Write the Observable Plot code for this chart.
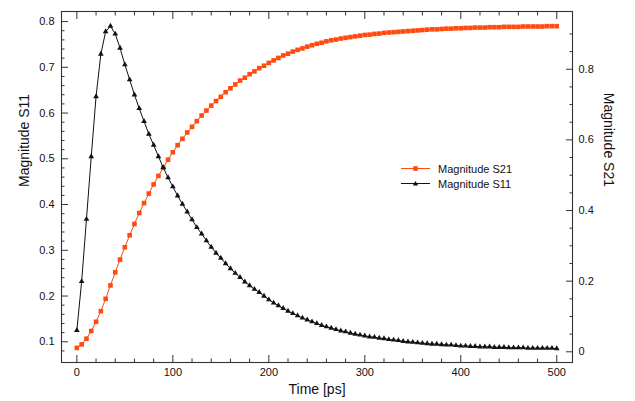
<!DOCTYPE html>
<html>
<head>
<meta charset="utf-8">
<script src="https://cdn.jsdelivr.net/npm/d3@7"></script>
<script src="https://cdn.jsdelivr.net/npm/@observablehq/plot@0.6"></script>
<style>
  body { margin: 0; background: white; }
  #wrap { position: relative; width: 635px; height: 401px; font-family: "Liberation Sans", Arial, sans-serif; }
  #legend { position: absolute; left: 401px; top: 161px; font-size: 11px; color: #111; }
  #legend .row { display: flex; align-items: center; height: 15px; }
  #legend svg { margin-right: 8px; }
</style>
</head>
<body>
<div id="wrap"><div id="chart"></div>
  <div id="legend">
    <div class="row"><svg width="29" height="15"><line x1="0" x2="29" y1="7.5" y2="7.5" stroke="#ff4a10" stroke-width="1"/><rect x="12.2" y="5.2" width="4.6" height="4.6" fill="#ff4a10"/></svg><span>Magnitude S21</span></div>
    <div class="row"><svg width="29" height="15"><line x1="0" x2="29" y1="7.5" y2="7.5" stroke="#111" stroke-width="1"/><path d="M14.5,4.9L17.2,9.6L11.8,9.6Z" fill="#111"/></svg><span>Magnitude S11</span></div>
  </div>
</div>
<script>
const time = [0,5,10,15,20,25,30,35,40,45,50,55,60,65,70,75,80,85,90,95,100,105,110,115,120,125,130,135,140,145,150,155,160,165,170,175,180,185,190,195,200,205,210,215,220,225,230,235,240,245,250,255,260,265,270,275,280,285,290,295,300,305,310,315,320,325,330,335,340,345,350,355,360,365,370,375,380,385,390,395,400,405,410,415,420,425,430,435,440,445,450,455,460,465,470,475,480,485,490,495,500];

const s11 = [0.125,0.232,0.368,0.505,0.636,0.729,0.778,0.790,0.773,0.742,0.706,0.673,0.640,0.610,0.582,0.554,0.530,0.505,0.481,0.459,0.439,0.419,0.401,0.384,0.367,0.350,0.336,0.321,0.307,0.294,0.283,0.271,0.260,0.250,0.241,0.231,0.223,0.215,0.208,0.200,0.192,0.185,0.179,0.173,0.167,0.162,0.157,0.152,0.148,0.144,0.140,0.136,0.133,0.130,0.127,0.124,0.122,0.119,0.117,0.115,0.113,0.111,0.110,0.108,0.107,0.105,0.104,0.103,0.101,0.100,0.099,0.098,0.097,0.096,0.095,0.095,0.094,0.093,0.093,0.092,0.091,0.091,0.090,0.090,0.089,0.089,0.089,0.088,0.088,0.088,0.087,0.087,0.087,0.087,0.086,0.086,0.086,0.086,0.086,0.086,0.085];

const s21 = [0.011,0.021,0.037,0.059,0.085,0.115,0.150,0.188,0.225,0.261,0.296,0.330,0.362,0.393,0.421,0.448,0.474,0.498,0.521,0.544,0.565,0.585,0.603,0.621,0.637,0.653,0.669,0.683,0.697,0.710,0.722,0.735,0.746,0.757,0.768,0.776,0.786,0.794,0.803,0.810,0.818,0.825,0.832,0.839,0.844,0.850,0.855,0.859,0.864,0.868,0.872,0.875,0.879,0.882,0.884,0.887,0.889,0.891,0.893,0.895,0.897,0.898,0.900,0.901,0.903,0.904,0.905,0.906,0.907,0.908,0.909,0.910,0.911,0.912,0.913,0.913,0.914,0.915,0.915,0.916,0.916,0.917,0.917,0.918,0.918,0.918,0.919,0.919,0.919,0.920,0.920,0.920,0.920,0.921,0.921,0.921,0.921,0.921,0.922,0.922,0.922];

const xMajor = [0,100,200,300,400,500];
const xMinor = [20,40,60,80,120,140,160,180,220,240,260,280,320,340,360,380,420,440,460,480];
const leftMajor = [0.1,0.2,0.3,0.4,0.5,0.6,0.7,0.8];
const leftMinor = [0.08,0.12,0.14,0.16,0.18,0.22,0.24,0.26,0.28,0.32,0.34,0.36,0.38,0.42,0.44,0.46,0.48,0.52,0.54,0.56,0.58,0.62,0.64,0.66,0.68,0.72,0.74,0.76,0.78];
const rightMajor = [0,0.2,0.4,0.6,0.8];
const rightMinor = [0.05,0.1,0.15,0.25,0.3,0.35,0.45,0.5,0.55,0.65,0.7,0.75,0.85,0.9];

const xDomain = [-16, 516.4];
const L = [0.0547, 0.822];
const R = [-0.0303, 0.9635];
const toL = v => L[0] + (v - R[0]) * (L[1] - L[0]) / (R[1] - R[0]);
const fromL = u => R[0] + (u - L[0]) * (R[1] - R[0]) / (L[1] - L[0]);

const orange = "#ff4a10";
const ink = "#111";
const axisColor = "#333";

const rows11 = time.map((t, i) => ({t, v: s11[i]}));
const rows21 = time.map((t, i) => ({t, v: toL(s21[i])}));

const chart = Plot.plot({
  width: 635, height: 401,
  marginLeft: 61, marginRight: 63, marginTop: 11, marginBottom: 39,
  x: {domain: xDomain},
  y: {domain: L},
  style: {fontFamily: "Liberation Sans, Arial, sans-serif", fontSize: "11px", background: "white", color: ink},
  marks: [
    Plot.line(rows21, {x: "t", y: "v", stroke: orange, strokeWidth: 1}),
    Plot.dot(rows21, {x: "t", y: "v", symbol: "square", fill: orange, r: 2.6}),
    Plot.line(rows11, {x: "t", y: "v", stroke: ink, strokeWidth: 1}),
    Plot.dot(rows11, {x: "t", y: "v", symbol: "triangle", fill: ink, r: 2.1}),
    Plot.frame({stroke: axisColor, strokeWidth: 1.1}),
    // bottom / top x ticks (inward)
    Plot.axisX(xMajor, {anchor: "bottom", tickSize: -7, fill: "none", stroke: axisColor}),
    Plot.axisX(xMinor, {anchor: "bottom", tickSize: -3.5, fill: "none", stroke: axisColor}),
    Plot.axisX(xMajor, {anchor: "top", tickSize: -7, fill: "none", stroke: axisColor}),
    Plot.axisX(xMinor, {anchor: "top", tickSize: -3.5, fill: "none", stroke: axisColor}),
    Plot.axisX(xMajor, {anchor: "bottom", tickSize: 0, tickPadding: 6, label: null, fill: ink}),
    // left y (S11)
    Plot.axisY(leftMajor, {anchor: "left", tickSize: -7, fill: "none", stroke: axisColor}),
    Plot.axisY(leftMinor, {anchor: "left", tickSize: -3.5, fill: "none", stroke: axisColor}),
    Plot.axisY(leftMajor, {anchor: "left", tickSize: 0, tickPadding: 7, label: null, fill: ink}),
    // right y (S21)
    Plot.axisY(rightMajor.map(toL), {anchor: "right", tickSize: -7, fill: "none", stroke: axisColor}),
    Plot.axisY(rightMinor.map(toL), {anchor: "right", tickSize: -3.5, fill: "none", stroke: axisColor}),
    Plot.axisY(rightMajor.map(toL), {anchor: "right", tickSize: 0, tickPadding: 6, label: null, fill: ink,
      tickFormat: d => String(+fromL(d).toFixed(2))}),
    // axis titles
    Plot.text(["Time [ps]"], {text: d => d, frameAnchor: "bottom", dy: 27, lineAnchor: "middle", fontSize: 14, fill: ink}),
    Plot.text(["Magnitude S11"], {text: d => d, frameAnchor: "left", dx: -37, rotate: -90, lineAnchor: "middle", fontSize: 14, fill: ink}),
    Plot.text(["Magnitude S21"], {text: d => d, frameAnchor: "right", dx: 36, rotate: 90, lineAnchor: "middle", fontSize: 14, fill: ink})
  ]
});
document.getElementById("chart").appendChild(chart);
</script>
</body>
</html>
